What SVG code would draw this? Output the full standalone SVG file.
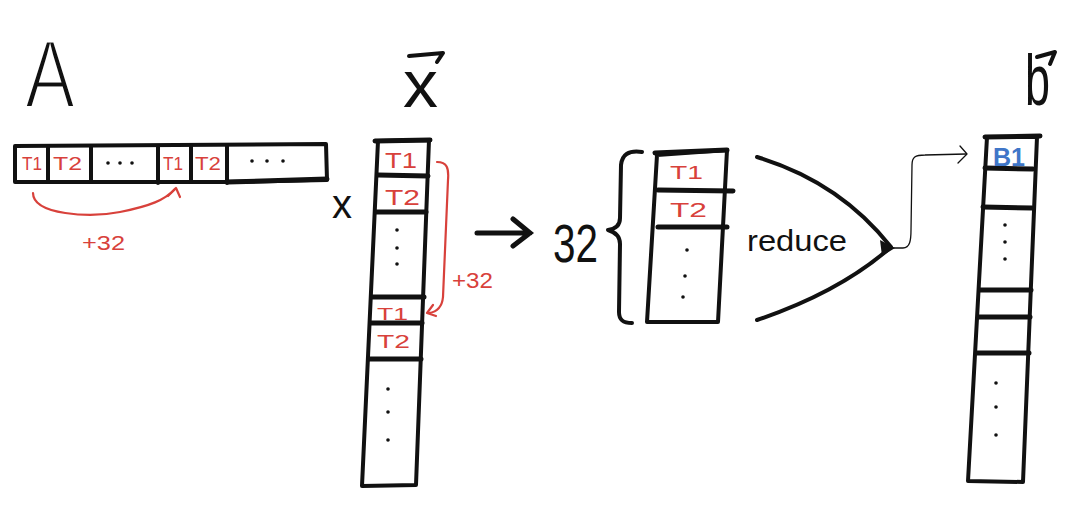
<svg xmlns="http://www.w3.org/2000/svg" width="1080" height="531" viewBox="0 0 1080 531">
<style>
.ink{fill:none;stroke:#111;stroke-width:4;stroke-linecap:round;stroke-linejoin:round}
.bar{fill:none;stroke:#111;stroke-width:5;stroke-linecap:round}
.red{fill:none;stroke:#d8413b;stroke-width:2.2;stroke-linecap:round;stroke-linejoin:round}
.thin{fill:none;stroke:#111;stroke-width:1.3;stroke-linecap:round;stroke-linejoin:round}
.rt{fill:#d8413b;font-family:"Liberation Sans",Arial,sans-serif}
.bt{fill:#111;font-family:"Liberation Sans",Arial,sans-serif}
.dot{fill:#111}
</style>
<rect width="1080" height="531" fill="#fff"/>

<g id="matrixA">
<text class="bt" x="25" y="107" font-size="96" textLength="50" lengthAdjust="spacingAndGlyphs" stroke="#fff" stroke-width="3">A</text>
<path class="ink" d="M15,146 L326,144 L327,180 L227,182 L15,182 Z"/>
<path class="ink" d="M48,146 V182 M91,146 V182 M158,146 V183 M191,146 V182 M227,146 V183"/>
<path class="bar" d="M227,182 L327,179"/>
<text class="rt" x="22" y="170" font-size="18" textLength="20" lengthAdjust="spacingAndGlyphs">T1</text>
<text class="rt" x="53" y="170" font-size="18" textLength="29" lengthAdjust="spacingAndGlyphs">T2</text>
<circle class="dot" cx="108" cy="163" r="1.8"/><circle class="dot" cx="120" cy="163" r="1.8"/><circle class="dot" cx="132" cy="163" r="1.8"/>
<text class="rt" x="163" y="170" font-size="18" textLength="20" lengthAdjust="spacingAndGlyphs">T1</text>
<text class="rt" x="195" y="170" font-size="18" textLength="26" lengthAdjust="spacingAndGlyphs">T2</text>
<circle class="dot" cx="252" cy="161" r="1.8"/><circle class="dot" cx="267" cy="161" r="1.8"/><circle class="dot" cx="283" cy="161" r="1.8"/>
</g>

<g id="times">
<text class="bt" x="332" y="218" font-size="40" textLength="20" lengthAdjust="spacingAndGlyphs">x</text>
</g>

<g id="vectorX">
<text class="bt" x="403" y="107" font-size="66" textLength="35" lengthAdjust="spacingAndGlyphs">x</text>
<path class="ink" d="M409,56 L443,53 L437,62"/>
<path class="ink" d="M378,141 L429,140 L416,485 L362,486 Z"/>
<path class="bar" d="M375,141 L430,140 M378,175 L428,176 M376,212 L426,212 M372,297 L424,297 M371,323 L422,323 M369,359 L421,359"/>
<text class="rt" x="385" y="168" font-size="22" textLength="32" lengthAdjust="spacingAndGlyphs">T1</text>
<text class="rt" x="385" y="205" font-size="22" textLength="35" lengthAdjust="spacingAndGlyphs">T2</text>
<circle class="dot" cx="397" cy="230" r="1.8"/><circle class="dot" cx="397" cy="248" r="1.8"/><circle class="dot" cx="397" cy="264" r="1.8"/>
<text class="rt" x="377" y="320" font-size="17" textLength="31" lengthAdjust="spacingAndGlyphs">T1</text>
<text class="rt" x="377" y="348" font-size="19" textLength="33" lengthAdjust="spacingAndGlyphs">T2</text>
<circle class="dot" cx="388" cy="389" r="1.8"/><circle class="dot" cx="388" cy="412" r="1.8"/><circle class="dot" cx="388" cy="440" r="1.8"/>
</g>

<g id="partial">
<text class="bt" x="553" y="262" font-size="54" textLength="45" lengthAdjust="spacingAndGlyphs">32</text>
<path class="ink" d="M642,152 C628,150 622,155 621,165 L620,218 C620,226 615,229 608,230 C615,232 620,236 620,244 L619,312 C619,320 623,323 632,323"/>
<path class="ink" d="M657,155 L727,150 L718,322 L647,322 Z"/>
<path class="bar" d="M655,153 L727,150 M658,190 L733,191 M658,227 L727,227"/>
<text class="rt" x="670" y="179" font-size="19" textLength="33" lengthAdjust="spacingAndGlyphs">T1</text>
<text class="rt" x="670" y="217" font-size="20" textLength="37" lengthAdjust="spacingAndGlyphs">T2</text>
<circle class="dot" cx="687" cy="250" r="1.8"/><circle class="dot" cx="685" cy="276" r="1.8"/><circle class="dot" cx="683" cy="297" r="1.8"/>
</g>

<g id="reduce">
<text class="bt" x="747" y="251" font-size="29" textLength="100" lengthAdjust="spacingAndGlyphs">reduce</text>
<path class="ink" d="M757,157 Q840,182 891,247 Q840,292 757,320"/>
<path d="M880,240 L895,248 L882,256 Z" fill="#111"/>
</g>

<g id="vectorB">
<text class="bt" x="1025" y="105" font-size="72" textLength="25" lengthAdjust="spacingAndGlyphs">b</text>
<path class="ink" d="M1037,57 L1055,52 L1050,64"/>
<path class="ink" d="M987,137 L1037,137 L1023,482 L968,481 Z"/>
<path class="bar" d="M985,137 L1040,136 M985,168 L1033,169 M983,207 L1032,208 M980,290 L1031,290 M979,317 L1030,317 M977,353 L1029,353"/>
<text x="993" y="166" font-size="25" font-weight="bold" fill="#3f76c8" font-family="Liberation Sans,Arial,sans-serif" textLength="32" lengthAdjust="spacingAndGlyphs">B1</text>
<circle class="dot" cx="1005" cy="225" r="1.8"/><circle class="dot" cx="1005" cy="242" r="1.8"/><circle class="dot" cx="1005" cy="259" r="1.8"/>
<circle class="dot" cx="996" cy="383" r="1.8"/><circle class="dot" cx="996" cy="407" r="1.8"/><circle class="dot" cx="996" cy="435" r="1.8"/>
</g>

<g id="connectors">
<path class="red" d="M33,193 C33,215 90,218 120,212 C150,206 165,200 175,189"/>
<path class="red" d="M168,196 L176,188 L180,197"/>
<text class="rt" x="82" y="250" font-size="21" textLength="43" lengthAdjust="spacingAndGlyphs">+32</text>
<path class="red" d="M437,162 C447,162 449,168 448,180 L443,297 C442,308 436,312 429,313"/>
<path class="red" d="M433,305 L427,313 L436,316"/>
<text class="rt" x="452" y="288" font-size="22" textLength="41" lengthAdjust="spacingAndGlyphs">+32</text>
<path class="bar" d="M477,233 L530,233 M513,219 L530,233 L513,246"/>
<path class="thin" d="M891,248 L903,248 C910,248 911,240 911,230 L912,165 C912,157 915,155 925,155 L966,154"/>
<path class="thin" d="M960,146 L967,154 L958,163"/>
</g>
</svg>
